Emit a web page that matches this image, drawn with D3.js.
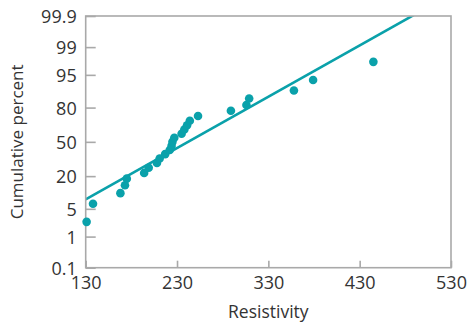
<!DOCTYPE html>
<html><head><meta charset="utf-8">
<script src="https://cdn.jsdelivr.net/npm/d3@7"></script>
<style>
html,body{margin:0;padding:0;background:#fff;}
svg{display:block;}
text{font-family:"Open Sans",sans-serif;}
</style></head>
<body><svg id="chart" width="470" height="325"></svg>
<script>
// Data
const resistivity = [131, 138, 168, 173, 175, 194, 199, 208, 211, 217, 222, 224, 225, 227, 235, 238, 241, 244, 253, 289, 306, 309, 358, 379, 445];
const cumulativePercent = [2.475, 6.436, 10.396, 14.356, 18.317, 22.277, 26.238, 30.198, 34.158, 38.119, 42.079, 46.040, 50.000, 53.960, 57.921, 61.881, 65.842, 69.802, 73.762, 77.723, 81.683, 85.644, 89.604, 93.564, 97.525];
const xTicks = [130, 230, 330, 430, 530];
const yTicks = [0.1, 1, 5, 20, 50, 80, 95, 99, 99.9];
const fitMean = 242;
const fitSd = 79.4;

// inverse normal CDF (Acklam)
function probit(p){
  const a=[-3.969683028665376e+01,2.209460984245205e+02,-2.759285104469687e+02,1.383577518672690e+02,-3.066479806614716e+01,2.506628277459239e+00];
  const b=[-5.447609879822406e+01,1.615858368580409e+02,-1.556989798598866e+02,6.680131188771972e+01,-1.328068155288572e+01];
  const c=[-7.784894002430293e-03,-3.223964580411365e-01,-2.400758277161838e+00,-2.549732539343734e+00,4.374664141464968e+00,2.938163982698783e+00];
  const d=[7.784695709041462e-03,3.224671290700398e-01,2.445134137142996e+00,3.754408661907416e+00];
  const pl=0.02425, ph=1-pl; let q,r;
  if(p<pl){q=Math.sqrt(-2*Math.log(p));return (((((c[0]*q+c[1])*q+c[2])*q+c[3])*q+c[4])*q+c[5])/((((d[0]*q+d[1])*q+d[2])*q+d[3])*q+1);}
  if(p<=ph){q=p-0.5;r=q*q;return (((((a[0]*r+a[1])*r+a[2])*r+a[3])*r+a[4])*r+a[5])*q/(((((b[0]*r+b[1])*r+b[2])*r+b[3])*r+b[4])*r+1);}
  q=Math.sqrt(-2*Math.log(1-p));return -(((((c[0]*q+c[1])*q+c[2])*q+c[3])*q+c[4])*q+c[5])/((((d[0]*q+d[1])*q+d[2])*q+d[3])*q+1);
}
const zOf = pct => probit(pct/100);

const teal = "#0aa1aa", grey = "#a9a9a9", txt = "#333";
const m = {left:85.7, right:451, top:16, bottom:267.7};
const svg = d3.select("#chart");

const x = d3.scaleLinear().domain([130, 530]).range([m.left, m.right]);
const y = d3.scaleLinear().domain([zOf(0.1), zOf(99.9)]).range([m.bottom, m.top]);

svg.append("defs").append("clipPath").attr("id","clip")
  .append("rect").attr("x",m.left).attr("y",m.top).attr("width",m.right-m.left).attr("height",m.bottom-m.top);

// fitted line
const lineX = [130, 530];
svg.append("line")
  .attr("clip-path","url(#clip)")
  .attr("x1", x(lineX[0])).attr("y1", y((lineX[0]-fitMean)/fitSd))
  .attr("x2", x(lineX[1])).attr("y2", y((lineX[1]-fitMean)/fitSd))
  .attr("stroke", teal).attr("stroke-width", 2.6);

// frame
svg.append("rect").attr("x",m.left).attr("y",m.top).attr("width",m.right-m.left).attr("height",m.bottom-m.top)
  .attr("fill","none").attr("stroke",grey).attr("stroke-width",1.6);

// axes
const yAxis = d3.axisLeft(y).tickValues(yTicks.map(zOf)).tickFormat((d,i)=>String(yTicks[i]))
  .tickSizeInner(-10).tickSizeOuter(0).tickPadding(9);
const gy = svg.append("g").attr("transform",`translate(${m.left},0)`).call(yAxis);
gy.select(".domain").remove();
gy.selectAll("line").attr("stroke",grey).attr("stroke-width",1.6);
gy.selectAll("text").attr("fill",txt).style("font-size","18px").attr("dy","0.36em");

const xAxis = d3.axisBottom(x).tickValues(xTicks).tickSizeInner(-7).tickSizeOuter(0).tickPadding(9);
const gx = svg.append("g").attr("transform",`translate(0,${m.bottom})`).call(xAxis);
gx.select(".domain").remove();
gx.selectAll("line").attr("stroke",grey).attr("stroke-width",1.6);
gx.selectAll("text").attr("fill",txt).style("font-size","18px");

// points
svg.append("g").selectAll("circle").data(resistivity).join("circle")
  .attr("cx", d=>x(d)).attr("cy", (d,i)=>y(zOf(cumulativePercent[i])))
  .attr("r", 4.3).attr("fill", teal);

// titles
svg.append("text").attr("x",(m.left+m.right)/2).attr("y",318).attr("text-anchor","middle")
  .attr("fill",txt).style("font-size","17.5px").text("Resistivity");
svg.append("text").attr("transform",`translate(23,${(m.top+m.bottom)/2}) rotate(-90)`).attr("text-anchor","middle")
  .attr("fill",txt).style("font-size","17px").text("Cumulative percent");
</script></body></html>
